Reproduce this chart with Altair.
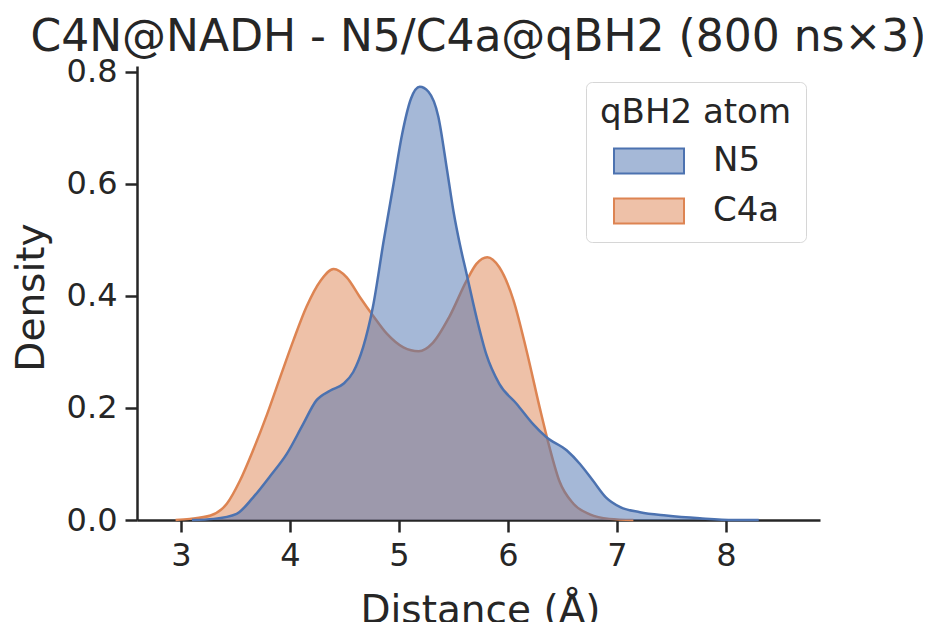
import altair as alt
import pandas as pd

# ---- data ----
atoms = ["N5", "C4a"]
colors = ["#4C72B0", "#DD8452"]
pale_colors = ["#A5B8D7", "#EEC1A8"]

n5_x = [3.10, 3.30, 3.51, 3.66, 3.82, 3.97, 4.12, 4.24, 4.37, 4.49, 4.58, 4.67,
        4.76, 4.86, 4.95, 5.03, 5.11, 5.19, 5.27, 5.36, 5.44, 5.50, 5.56, 5.62,
        5.71, 5.80, 5.92, 6.08, 6.23, 6.35, 6.54, 6.66, 6.78, 6.90, 7.03, 7.21,
        7.45, 7.76, 8.07, 8.30]
n5_y = [0.000, 0.002, 0.011, 0.040, 0.079, 0.118, 0.171, 0.213, 0.231, 0.243, 0.264, 0.308,
        0.380, 0.499, 0.600, 0.690, 0.752, 0.773, 0.764, 0.720, 0.625, 0.550, 0.490, 0.439,
        0.362, 0.296, 0.243, 0.207, 0.171, 0.148, 0.124, 0.100, 0.070, 0.040, 0.023, 0.014,
        0.008, 0.003, 0.000, 0.000]

c4a_x = [2.95, 3.08, 3.27, 3.42, 3.54, 3.66, 3.79, 3.91, 4.03, 4.15, 4.28, 4.40,
         4.52, 4.64, 4.76, 4.89, 5.04, 5.18, 5.31, 5.46, 5.62, 5.71, 5.81, 5.92,
         6.05, 6.17, 6.29, 6.38, 6.47, 6.60, 6.75, 6.93, 7.15]
c4a_y = [0.000, 0.002, 0.008, 0.029, 0.070, 0.124, 0.189, 0.255, 0.320, 0.380, 0.427, 0.448,
         0.433, 0.398, 0.365, 0.332, 0.308, 0.301, 0.316, 0.362, 0.427, 0.457, 0.469, 0.451,
         0.392, 0.302, 0.201, 0.130, 0.070, 0.029, 0.010, 0.002, 0.000]

x_ticks = [3, 4, 5, 6, 7, 8]
y_ticks = [0.0, 0.2, 0.4, 0.6, 0.8]

df = pd.concat([
    pd.DataFrame({"x": n5_x, "density": n5_y, "atom": "N5"}),
    pd.DataFrame({"x": c4a_x, "density": c4a_y, "atom": "C4a"}),
], ignore_index=True)

FONT = "DejaVu Sans"
INK = "#262626"

x_enc = alt.X("x:Q",
              scale=alt.Scale(domain=[2.596, 8.862], nice=False, zero=False),
              axis=alt.Axis(values=x_ticks, format="d", title="Distance (Å)",
                            titleX=343, titleY=102, titleBaseline="alphabetic",
                            titleAlign="center"))
y_enc = alt.Y("density:Q",
              scale=alt.Scale(domain=[0, 0.81], nice=False),
              axis=alt.Axis(values=y_ticks, format=".1f", title="Density",
                            titleX=-94, titleY=231, titleAngle=270,
                            titleBaseline="alphabetic", titleAlign="center"))

base = alt.Chart(df)


def series_layers(atom, color):
    sub = base.transform_filter(alt.datum.atom == atom)
    area = sub.mark_area(color=color, fillOpacity=0.5, interpolate="monotone",
                         strokeWidth=0).encode(x=x_enc, y=y_enc)
    line = sub.mark_line(color=color, strokeWidth=2.5, interpolate="monotone").encode(
        x=x_enc, y=y_enc)
    return [area, line]


legend_layer = base.transform_filter("false").mark_rect(opacity=1, strokeWidth=2).encode(
    x=x_enc, y=y_enc,
    fill=alt.Fill("atom:N", scale=alt.Scale(domain=atoms, range=pale_colors),
                  legend=alt.Legend(title="qBH2 atom")),
    stroke=alt.Stroke("atom:N", scale=alt.Scale(domain=atoms, range=colors),
                      legend=alt.Legend(title="qBH2 atom")),
)

layers = series_layers("C4a", colors[1]) + series_layers("N5", colors[0]) + [legend_layer]

chart = alt.layer(*layers).properties(
    width=683, height=454,
    title=alt.TitleParams("C4N@NADH - N5/C4a@qBH2 (800 ns×3)", fontSize=44, font=FONT,
                          fontWeight="normal", color=INK, anchor="middle", frame="group",
                          offset=6, dy=10),
    autosize=alt.AutoSizeParams(type="none"),
    padding={"left": 129, "top": 58, "right": 103, "bottom": 102},
).configure_view(stroke=None).configure_axis(
    grid=False, domainColor=INK, domainWidth=2.5, tickColor=INK, tickWidth=2.5,
    tickSize=12, labelFont=FONT, labelFontSize=32, labelColor=INK, labelPadding=8,
    titleFont=FONT, titleFontSize=39, titleColor=INK, titleFontWeight="normal",
    zindex=1,
).configure_legend(
    orient="none", legendX=449, legendY=16, padding=14, cornerRadius=6,
    strokeColor="#d6d6d6", fillColor="white", titleFont=FONT, titleFontSize=34,
    titleFontWeight="normal", titleColor=INK, titleLimit=400, labelFont=FONT,
    labelFontSize=34, labelColor=INK, labelLimit=300,
    symbolType="M-1.4,-0.5L1.4,-0.5L1.4,0.5L-1.4,0.5Z", symbolSize=2500,
    symbolStrokeWidth=2, symbolOffset=23, labelOffset=38, rowPadding=7, titlePadding=5,
)

chart.save("out.html", embed_options={"renderer": "svg", "actions": False})
